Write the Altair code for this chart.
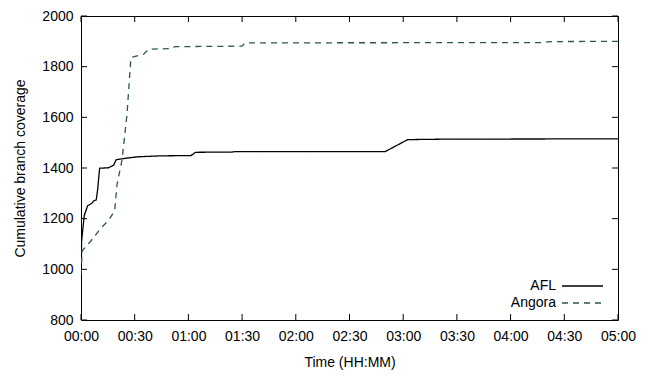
import altair as alt
import pandas as pd

# ---- data (time in minutes, cumulative branch coverage) ----
afl_t = [0, 0.3, 1.8, 3.7, 6.1, 7.0, 8.5, 9.3, 10.4, 15.4, 18.2, 19.7, 23.5, 31.3, 44.3,
         61.5, 63.9, 84.4, 86.2, 170, 182.5, 204.5, 300]
afl_v = [800, 1109, 1212, 1251, 1261, 1270, 1274, 1315, 1399, 1401, 1411, 1433, 1437, 1444, 1448,
         1449, 1462, 1463, 1465, 1465, 1512, 1514, 1515]

ang_t = [0, 0.6, 5.2, 10.8, 15.4, 18.8, 20.1, 22.9, 25.7, 27.9, 35.0, 37.8, 49.9, 52.7,
         89.9, 91.8, 257, 262, 300]
ang_v = [980, 1073, 1109, 1160, 1193, 1231, 1334, 1431, 1611, 1836, 1849, 1869, 1871, 1879,
         1881, 1894, 1895, 1899, 1900]

series_names = ["AFL", "Angora"]
series_colors = ["#000000", "#2b5552"]
series_dashes = [[1, 0], [6, 5]]

x_ticks = [0, 30, 60, 90, 120, 150, 180, 210, 240, 270, 300]
y_ticks = [800, 1000, 1200, 1400, 1600, 1800, 2000]

x_title = "Time (HH:MM)"
y_title = "Cumulative branch coverage"

# ---- build tables ----
df = pd.concat([
    pd.DataFrame({"t": afl_t, "v": afl_v, "series": series_names[0]}),
    pd.DataFrame({"t": ang_t, "v": ang_v, "series": series_names[1]}),
], ignore_index=True)
xt_df = pd.DataFrame({"t": x_ticks})
yt_df = pd.DataFrame({"v": y_ticks})

W, H = 537, 304
FONT = "Liberation Sans"
FS = 14
TK = 6  # inward tick length

x_scale = alt.Scale(domain=[0, 300], nice=False, zero=False)
y_scale = alt.Scale(domain=[800, 2000], nice=False, zero=False)

time_expr = ("(floor(datum.value/60) < 10 ? '0' : '') + floor(datum.value/60) + ':' + "
             "(datum.value % 60 < 10 ? '0' : '') + (datum.value % 60)")

lines = alt.Chart(df).mark_line(strokeWidth=1.3, clip=True).encode(
    x=alt.X("t:Q", scale=x_scale,
            axis=alt.Axis(values=x_ticks, labelExpr=time_expr, ticks=False, domain=False,
                          title=x_title, labelPadding=9, titlePadding=12, grid=False,
                          labelFlush=False, labelOverlap=False)),
    y=alt.Y("v:Q", scale=y_scale,
            axis=alt.Axis(values=y_ticks, format="d", ticks=False, domain=False, title=y_title,
                          labelPadding=8, titlePadding=14, grid=False,
                          labelFlush=False, labelOverlap=False)),
    color=alt.Color("series:N", scale=alt.Scale(domain=series_names, range=series_colors), legend=None),
    strokeDash=alt.StrokeDash("series:N", scale=alt.Scale(domain=series_names, range=series_dashes),
                              legend=None),
)

# inward ticks on all four sides
tick_style = dict(color="black", strokeWidth=1)
xb = alt.Chart(xt_df).mark_rule(**tick_style).encode(
    x=alt.X("t:Q", scale=x_scale, axis=None), y=alt.value(H), y2=alt.value(H - TK))
xtop = alt.Chart(xt_df).mark_rule(**tick_style).encode(
    x=alt.X("t:Q", scale=x_scale, axis=None), y=alt.value(0), y2=alt.value(TK))
yl = alt.Chart(yt_df).mark_rule(**tick_style).encode(
    y=alt.Y("v:Q", scale=y_scale, axis=None), x=alt.value(0), x2=alt.value(TK))
yr = alt.Chart(yt_df).mark_rule(**tick_style).encode(
    y=alt.Y("v:Q", scale=y_scale, axis=None), x=alt.value(W), x2=alt.value(W - TK))

# manual legend (labels left of samples, bottom-right inside plot)
leg_layers = []
for i, name in enumerate(series_names):
    yy = H - 34 + i * 17
    leg_layers.append(
        alt.Chart(pd.DataFrame({"series": [name]})).mark_text(
            align="right", baseline="middle", font=FONT, fontSize=FS, color="black"
        ).encode(x=alt.value(475), y=alt.value(yy), text="series:N")
    )
    leg_layers.append(
        alt.Chart(pd.DataFrame({"series": [name]})).mark_rule(
            color=series_colors[i], strokeWidth=1.3, strokeDash=series_dashes[i]
        ).encode(x=alt.value(481), x2=alt.value(522), y=alt.value(yy))
    )

chart = alt.layer(lines, xb, xtop, yl, yr, *leg_layers).resolve_axis(
    x="independent", y="independent"
).properties(
    width=W, height=H,
    padding={"left": 73, "top": 8, "right": 20, "bottom": 50},
    autosize=alt.AutoSizeParams(type="none"),
).configure_view(
    stroke="black", strokeWidth=1
).configure_axis(
    labelFont=FONT, titleFont=FONT, labelFontSize=FS, titleFontSize=FS,
    labelColor="black", titleColor="black", titleFontWeight="normal",
)

chart.save("out.html", embed_options={"renderer": "svg", "actions": False})
